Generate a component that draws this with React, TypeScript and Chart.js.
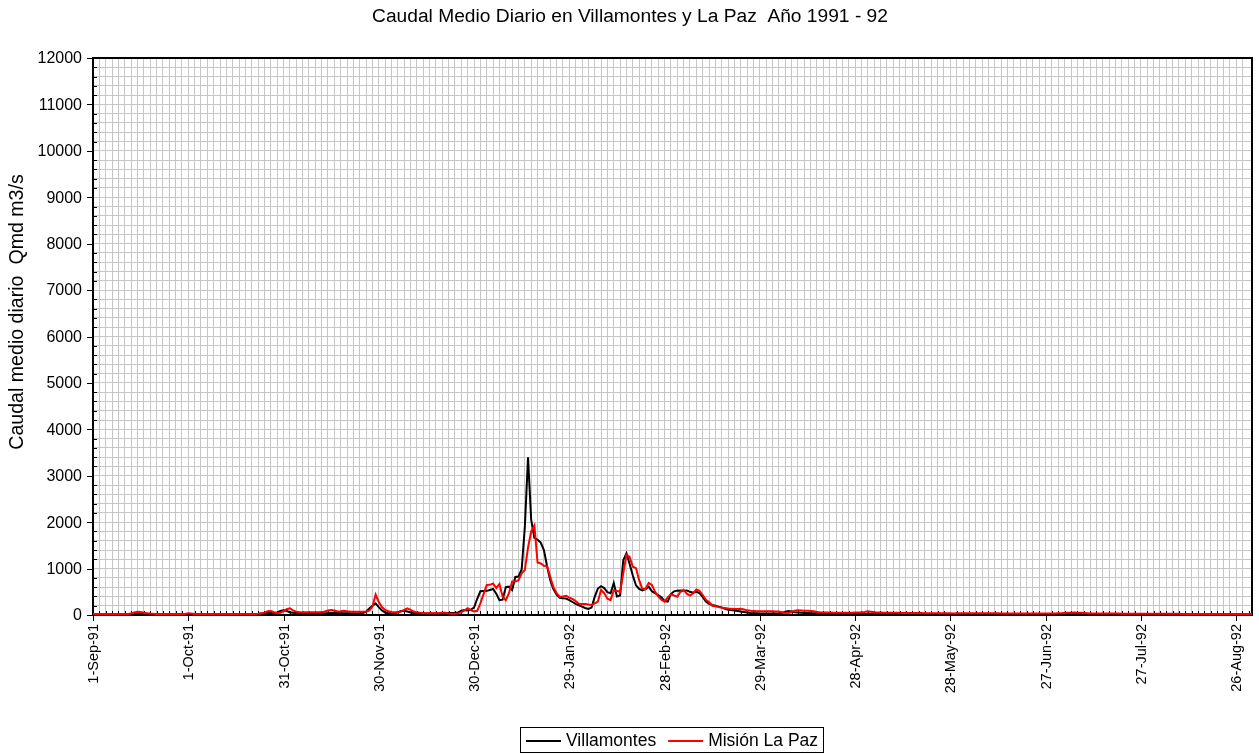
import { useEffect, useRef } from "react";
import { Chart, registerables } from "chart.js";

Chart.register(...registerables);

// Daily mean discharge, hydrological year 1-Sep-1991 .. 31-Aug-1992 (day 0 = 1-Sep-91)
const dateTickLabels = [
  "1-Sep-91", "1-Oct-91", "31-Oct-91", "30-Nov-91", "30-Dec-91", "29-Jan-92",
  "28-Feb-92", "29-Mar-92", "28-Apr-92", "28-May-92", "27-Jun-92", "27-Jul-92", "26-Aug-92",
];

const seriesNames = ["Villamontes", "Misión La Paz"];

const villamontes = [
  15, 15, 15, 15, 14, 14, 14, 14, 14, 14,
  14, 14, 18, 30, 40, 35, 25, 18, 15, 14,
  14, 13, 13, 13, 13, 13, 13, 13, 13, 13,
  14, 13, 13, 12, 12, 12, 12, 12, 12, 12,
  12, 12, 12, 12, 12, 12, 12, 12, 13, 13,
  14, 18, 25, 35, 45, 50, 45, 40, 55, 85,
  100, 85, 60, 50, 45, 42, 40, 38, 38, 36,
  35, 35, 35, 36, 38, 42, 46, 44, 40, 38,
  37, 36, 35, 35, 38, 45, 70, 140, 200, 250,
  170, 100, 55, 40, 38, 40, 60, 85, 90, 75,
  55, 45, 40, 36, 35, 34, 34, 33, 33, 33,
  34, 38, 42, 45, 42, 55, 95, 105, 95, 115,
  160, 350, 510, 515, 520, 540, 560, 460, 320, 330,
  600, 610, 540, 820, 830, 980, 1900, 3400, 2050, 1660,
  1620, 1560, 1400, 1050, 750, 560, 440, 370, 360, 355,
  320, 280, 240, 210, 180, 150, 130, 160, 390, 570,
  620, 580, 490, 470, 690, 400, 420, 1180, 1330, 1100,
  850, 640, 560, 530, 560, 610, 510, 470, 430, 380,
  300, 290, 450, 510, 525, 530, 525, 530, 500, 480,
  500, 470, 390, 290, 240, 215, 200, 180, 165, 135,
  115, 105, 95, 85, 75, 65, 55, 45, 38, 36,
  35, 35, 34, 34, 33, 33, 35, 45, 70, 86,
  75, 60, 55, 50, 45, 42, 40, 38, 36, 34,
  32, 31, 30, 29, 28, 27, 26, 26, 25, 25,
  25, 25, 24, 24, 26, 28, 26, 24, 23, 23,
  22, 22, 22, 22, 22, 21, 21, 21, 21, 21,
  21, 20, 20, 20, 20, 20, 20, 20, 20, 20,
  19, 19, 19, 19, 19, 19, 19, 19, 19, 19,
  19, 19, 18, 18, 18, 18, 18, 18, 18, 18,
  18, 18, 18, 18, 18, 18, 18, 18, 18, 18,
  18, 18, 18, 19, 22, 26, 32, 38, 42, 45,
  44, 40, 34, 28, 24, 21, 19, 18, 18, 17,
  17, 17, 17, 17, 17, 17, 16, 16, 16, 16,
  16, 16, 16, 16, 16, 16, 16, 15, 15, 15,
  15, 15, 15, 15, 15, 15, 15, 15, 15, 15,
  15, 15, 15, 14, 14, 14, 14, 14, 14, 14,
  14, 14, 14, 14, 14, 14,
];

const misionLaPaz = [
  22, 22, 22, 22, 22, 22, 22, 22, 22, 22,
  22, 23, 30, 55, 72, 65, 50, 40, 30, 26,
  24, 24, 23, 23, 23, 23, 23, 23, 23, 24,
  40, 30, 24, 23, 23, 22, 22, 22, 22, 22,
  22, 22, 22, 22, 22, 22, 22, 22, 22, 22,
  22, 23, 25, 30, 50, 80, 86, 60, 40, 50,
  80, 125, 145, 100, 72, 65, 60, 58, 57, 57,
  57, 58, 62, 75, 95, 108, 95, 75, 80, 92,
  82, 75, 72, 72, 72, 72, 74, 95, 180, 440,
  280, 170, 110, 80, 65, 57, 57, 75, 110, 145,
  110, 75, 57, 50, 45, 40, 36, 36, 36, 40,
  55, 50, 32, 25, 25, 35, 60, 100, 145, 105,
  75, 90, 250, 450, 645, 650, 680, 580, 670, 395,
  320, 470, 720, 720, 750, 900, 970, 1450, 1800, 1930,
  1130, 1110, 1060, 1050, 820, 600, 470, 390, 400, 415,
  375, 345, 300, 240, 237, 237, 225, 215, 250, 290,
  540, 470, 350, 320, 530, 515, 500, 900, 1300, 1250,
  1040, 1010, 750, 560, 560, 690, 650, 500, 400, 330,
  287, 380, 445, 420, 395, 500, 540, 460, 420, 470,
  550, 520, 430, 330, 280, 200, 190, 170, 155, 150,
  142, 136, 130, 129, 136, 120, 100, 90, 86, 82,
  80, 79, 79, 79, 79, 78, 75, 60, 45, 40,
  70, 93, 100, 95, 90, 90, 86, 80, 65, 57,
  55, 52, 52, 51, 50, 50, 50, 50, 50, 50,
  52, 55, 58, 65, 78, 70, 60, 55, 52, 50,
  50, 50, 48, 47, 46, 45, 45, 44, 44, 43,
  42, 41, 40, 40, 40, 38, 38, 38, 38, 38,
  36, 32, 36, 38, 38, 38, 38, 38, 37, 37,
  37, 37, 36, 36, 36, 36, 35, 35, 35, 35,
  35, 35, 34, 34, 34, 34, 34, 34, 34, 34,
  34, 34, 34, 35, 37, 40, 44, 48, 50, 52,
  50, 46, 42, 38, 35, 34, 33, 32, 32, 31,
  31, 30, 30, 30, 29, 29, 29, 28, 28, 28,
  28, 27, 27, 27, 26, 26, 26, 26, 25, 25,
  25, 25, 25, 24, 24, 24, 24, 24, 24, 24,
  23, 23, 23, 23, 23, 23, 23, 23, 22, 22,
  22, 22, 22, 22, 22, 22,
];

const chartTitle = "Caudal Medio Diario en Villamontes y La Paz  Año 1991 - 92";
const yAxisTitle = "Caudal medio diario  Qmd m3/s";
const yMax = 12000;
const yMajorStep = 1000;
const yMinorStep = 200;
const xMajorStep = 30;
const xMinorStep = 2;

const FONT = '"Liberation Sans", Arial, Helvetica, sans-serif';
const seriesColors = ["#000000", "#ff0000"];

const frameAndTicks = {
  id: "frameAndTicks",
  beforeDatasetsDraw(chart: any) {
    const ctx = chart.ctx as CanvasRenderingContext2D;
    const { left, right, top, bottom } = chart.chartArea;
    const xs = chart.scales.x;
    const ys = chart.scales.y;
    ctx.save();
    ctx.strokeStyle = "#000";
    ctx.lineWidth = 1;
    // y ticks: major outside, minor inside
    for (let v = 0; v <= yMax; v += yMinorStep) {
      const y = Math.round(ys.getPixelForValue(v)) + 0.5;
      ctx.beginPath();
      if (v % yMajorStep === 0) {
        ctx.moveTo(left - 6, y);
        ctx.lineTo(left, y);
      } else {
        ctx.moveTo(left, y);
        ctx.lineTo(left + 4, y);
      }
      ctx.stroke();
    }
    // x ticks: major outside, minor inside
    const lastDay = villamontes.length - 1;
    for (let d = 0; d <= lastDay; d += xMinorStep) {
      const x = Math.round(xs.getPixelForValue(d)) + 0.5;
      ctx.beginPath();
      if (d % xMajorStep === 0) {
        ctx.moveTo(x, bottom);
        ctx.lineTo(x, bottom + 6);
      } else {
        ctx.moveTo(x, bottom - 4);
        ctx.lineTo(x, bottom);
      }
      ctx.stroke();
    }
    // plot frame
    ctx.lineWidth = 2;
    ctx.strokeRect(left, top, right - left, bottom - top);
    ctx.restore();
  },
  afterDraw(chart: any) {
    const ctx = chart.ctx as CanvasRenderingContext2D;
    const { left, bottom } = chart.chartArea;
    const xs = chart.scales.x;
    const ys = chart.scales.y;
    ctx.save();
    ctx.fillStyle = "#000";

    // y tick labels
    ctx.font = `16px ${FONT}`;
    ctx.textAlign = "right";
    ctx.textBaseline = "middle";
    for (let v = 0; v <= yMax; v += yMajorStep) {
      ctx.fillText(String(v), left - 11, ys.getPixelForValue(v) + 1);
    }

    // x tick labels (rotated)
    ctx.font = `14.5px ${FONT}`;
    dateTickLabels.forEach((lab, i) => {
      const x = xs.getPixelForValue(i * xMajorStep);
      ctx.save();
      ctx.translate(x + 1, bottom + 9);
      ctx.rotate(-Math.PI / 2);
      ctx.textAlign = "right";
      ctx.textBaseline = "middle";
      ctx.fillText(lab, 0, 0);
      ctx.restore();
    });

    // title
    ctx.font = `19.2px ${FONT}`;
    ctx.textAlign = "center";
    ctx.textBaseline = "middle";
    ctx.fillText(chartTitle, 630, 17);

    // y axis title
    ctx.save();
    ctx.translate(18, 312);
    ctx.rotate(-Math.PI / 2);
    ctx.font = `19.6px ${FONT}`;
    ctx.textAlign = "center";
    ctx.textBaseline = "middle";
    ctx.fillText(yAxisTitle, 0, 0);
    ctx.restore();

    // legend
    ctx.strokeStyle = "#000";
    ctx.lineWidth = 1;
    ctx.strokeRect(520.5, 727.5, 303, 25);
    ctx.font = `17.5px ${FONT}`;
    ctx.textAlign = "left";
    ctx.textBaseline = "middle";
    const ly = 741;
    let lx = 526;
    seriesNames.forEach((name, i) => {
      ctx.strokeStyle = seriesColors[i];
      ctx.lineWidth = 2;
      ctx.beginPath();
      ctx.moveTo(lx, ly);
      ctx.lineTo(lx + 35, ly);
      ctx.stroke();
      ctx.fillText(name, lx + 40, ly);
      lx += 40 + ctx.measureText(name).width + 12;
    });
    ctx.restore();
  },
};

export default function App() {
  const canvasRef = useRef<HTMLCanvasElement>(null);

  useEffect(() => {
    const canvas = canvasRef.current;
    if (!canvas) return;
    const chart = new Chart(canvas, {
      type: "line",
      data: {
        datasets: [
          {
            label: seriesNames[0],
            data: villamontes.map((y, x) => ({ x, y })),
            borderColor: seriesColors[0],
            borderWidth: 2,
            pointRadius: 0,
            tension: 0,
            order: 1,
          },
          {
            label: seriesNames[1],
            data: misionLaPaz.map((y, x) => ({ x, y })),
            borderColor: seriesColors[1],
            borderWidth: 2,
            pointRadius: 0,
            tension: 0,
            order: 0,
          },
        ],
      },
      options: {
        responsive: false,
        animation: false,
        devicePixelRatio: 1,
        events: [],
        layout: { padding: { top: 58, right: 7, left: 0, bottom: 0 } },
        plugins: {
          legend: { display: false },
          tooltip: { enabled: false },
          title: { display: false },
        },
        scales: {
          x: {
            type: "linear",
            min: 0,
            max: villamontes.length - 1,
            afterFit: (s: any) => {
              s.height = 139;
            },
            ticks: { display: false, stepSize: xMinorStep, autoSkip: false, maxTicksLimit: 1000 },
            grid: { color: "#c6c6c6", lineWidth: 1, drawTicks: false },
            border: { display: false },
          },
          y: {
            type: "linear",
            min: 0,
            max: yMax,
            afterFit: (s: any) => {
              s.width = 93;
            },
            ticks: { display: false, stepSize: yMinorStep, autoSkip: false, maxTicksLimit: 1000 },
            grid: { color: "#c6c6c6", lineWidth: 1, drawTicks: false },
            border: { display: false },
          },
        },
      },
      plugins: [frameAndTicks],
    });
    return () => chart.destroy();
  }, []);

  return (
    <div style={{ position: "fixed", left: 0, top: 0, width: 1259, height: 754, background: "#fff" }}>
      <canvas ref={canvasRef} width={1259} height={754} style={{ display: "block" }} />
    </div>
  );
}
